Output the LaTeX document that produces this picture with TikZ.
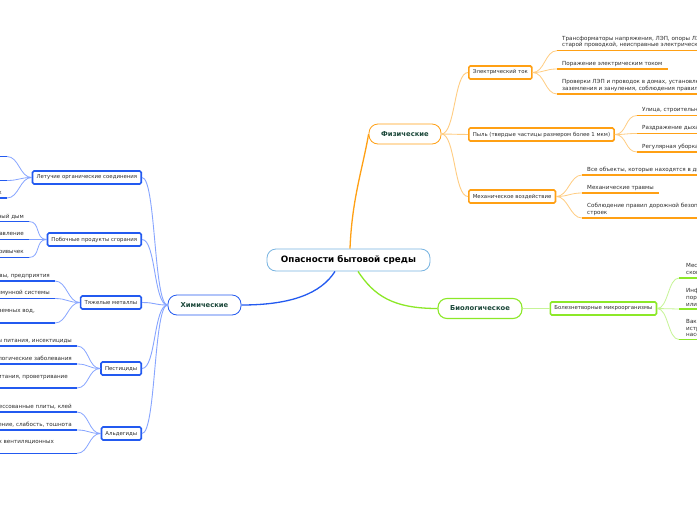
\documentclass[tikz,border=0pt]{standalone}
\usepackage{fontspec}
\setmainfont{DejaVu Sans}
\usepackage{xcolor}
\usepackage{tikz}
\usetikzlibrary{positioning}
\definecolor{hzOrange}{RGB}{255,160,20}
\definecolor{hzLightOrange}{RGB}{255,205,130}
\definecolor{hzBlue}{RGB}{35,90,240}
\definecolor{hzLightBlue}{RGB}{135,165,255}
\definecolor{hzGreen}{RGB}{140,232,40}
\definecolor{hzLightGreen}{RGB}{198,244,150}
\definecolor{hzSky}{RGB}{120,180,225}
\definecolor{hzTeal}{RGB}{28,72,58}
\definecolor{hzInk}{RGB}{45,45,45}

\begin{document}
\begin{tikzpicture}[x=1pt, y=-1pt, font=\fontsize{5.6}{6.7}\selectfont, text=hzInk]
\tikzstyle{root}=[draw=hzSky, thick, rounded corners=9pt, fill=white, minimum width=163pt, minimum height=22pt, text=black, font=\bfseries\fontsize{8.8}{10}\selectfont]
\tikzstyle{branch}=[thick, rounded corners=9pt, fill=white, minimum height=20pt, text=hzTeal, font=\bfseries\fontsize{6.8}{8}\selectfont]
\tikzstyle{topic}=[line width=1.6pt, rounded corners=1.5pt, fill=white, minimum height=13pt, inner xsep=4pt, inner ysep=0pt, font=\fontsize{5.4}{6.5}\selectfont]
\tikzstyle{leafR}=[anchor=south west, align=left, inner xsep=5pt, inner ysep=2.5pt]
\tikzstyle{leafL}=[anchor=south east, align=left, inner xsep=5pt, inner ysep=2.5pt]

\fill[white] (0,0) rectangle (697,520);
\useasboundingbox (0,0) rectangle (697,520);
\clip (0,0) rectangle (697,520);

% main branches
\node[root] (root) at (348.5,260) {Опасности бытовой среды};
\node[branch, draw=hzOrange, minimum width=72pt] (phys) at (405,134) {Физические};
\node[branch, draw=hzBlue, minimum width=73pt] (chem) at (204.5,305) {Химические};
\node[branch, draw=hzGreen, line width=1.1pt, minimum width=84pt] (bio) at (480,308.5) {Биологическое};

% physical
\node[topic, draw=hzOrange, anchor=west] (elec) at (468,72.5) {Электрический ток};
\node[topic, draw=hzOrange, anchor=west] (dust) at (468,134.5) {Пыль (твердые частицы размером более 1 мкм)};
\node[topic, draw=hzOrange, anchor=west] (mech) at (468,196.5) {Механическое воздействие};

\node[leafR] (e1) at (557,50.7) {Трансформаторы напряжения, ЛЭП, опоры ЛЭП, дома со\\старой проводкой, неисправные электрические приборы};
\node[leafR] (e2) at (557,69) {Поражение электрическим током};
\node[leafR] (e3) at (557,94) {Проверки ЛЭП и проводок в домах, установление\\заземления и зануления, соблюдения правил безопасности};
\node[leafR] (d1) at (637,115.5) {Улица, строительные площадки};
\node[leafR] (d2) at (637,133.5) {Раздражение дыхательных путей};
\node[leafR] (d3) at (637,152) {Регулярная уборка помещений};
\node[leafR] (m1) at (582,175) {Все объекты, которые находятся в движении};
\node[leafR] (m2) at (582,193) {Механические травмы};
\node[leafR] (m3) at (582,218) {Соблюдение правил дорожной безопасности и техники безопасности у\\строек};

% chemical
\node[topic, draw=hzBlue, anchor=east] (voc) at (142,177.5) {Летучие органические соединения};
\node[topic, draw=hzBlue, anchor=east] (comb) at (142,239.5) {Побочные продукты сгорания};
\node[topic, draw=hzBlue, anchor=east] (metal) at (142,302.5) {Тяжелые металлы};
\node[topic, draw=hzBlue, anchor=east] (pest) at (142,368.5) {Пестициды};
\node[topic, draw=hzBlue, anchor=east] (ald) at (142,433.5) {Альдегиды};

\node[leafL, text width=150pt] (v1) at (7,156.5) {Лаки, краски, растворители, бытовая химия};
\node[leafL, text width=150pt] (v2) at (7,180.5) {Головная боль, аллергия, раздражение\\глаз и дыхательных путей};
\node[leafL] (v3) at (7,198) {Проветривание, отказ от синтетических красок};
\node[leafL] (c1) at (29,221.5) {Газовые плиты, камины, табачный дым};
\node[leafL] (c2) at (29,239.5) {Головная боль, отравление};
\node[leafL] (c3) at (29,257.5) {Отказ от вредных привычек};
\node[leafL] (t1) at (55,281) {Загрязнённые почвы, предприятия};
\node[leafL] (t2) at (55,298.5) {Поражение нервной и иммунной системы};
\node[leafL] (t3) at (55,323) {Очистка питьевых и подземных вод,\hspace*{15pt}\\мытьё продуктов};
\node[leafL] (p1) at (77,346) {Продукты питания, инсектициды};
\node[leafL] (p2) at (77,364) {Отравления, онкологические заболевания};
\node[leafL] (p3) at (77,388) {Мытьё продуктов питания, проветривание\hspace*{4pt}\\комнат};
\node[leafL] (a1) at (77,412) {Мебель, прессованные плиты, клей};
\node[leafL] (a2) at (77,430) {Головокружение, слабость, тошнота};
\node[leafL] (a3) at (77,453.3) {Установка качественных вентиляционных\hspace*{18pt}\\систем};

% biological
\node[topic, draw=hzGreen, right=27pt of bio] (germs) {Болезнетворные микроорганизмы};
\node[leafR, inner xsep=7pt] (b1) at (679,278) {Места большого\\скопления людей};
\node[leafR, inner xsep=7pt] (b2) at (679,309) {Инфекционные заболевания,\\поражение органов\\или систем};
\node[leafR, inner xsep=7pt] (b3) at (679,339.5) {Вакцинация,\\истребление\\насекомых};

% connectors
\draw[line width=1.3pt, hzOrange] ([xshift=1.5pt]root.north) .. controls +(2,-50) and +(-6,35) .. (phys.west);
\draw[line width=1.3pt, hzBlue] ([xshift=-13.5pt]root.south) .. controls +(-14,22) and +(50,0) .. (chem.east);
\draw[line width=1.3pt, hzGreen] ([xshift=9.5pt]root.south) .. controls +(16,24) and +(-45,0) .. (bio.west);

\foreach \t in {elec,dust,mech}
  \draw[hzLightOrange, line width=0.9pt] (phys.east) .. controls +(14,0) and +(-14,0) .. (\t.west);
\foreach \t/\l in {elec/e1,elec/e2,elec/e3,dust/d1,dust/d2,dust/d3,mech/m1,mech/m2,mech/m3}
  \draw[hzLightOrange, line width=0.8pt] (\t.east) .. controls +(12,0) and +(-12,0) .. (\l.south west);
\foreach \n in {e1,e2,e3,d1,d2,d3,m1,m2,m3}
  \draw[hzOrange, line width=1.3pt] (\n.south west) -- (\n.south east);

\foreach \t in {voc,comb,metal,pest,ald}
  \draw[hzLightBlue, line width=0.9pt] (chem.west) .. controls +(-14,0) and +(14,0) .. (\t.east);
\foreach \t/\l in {voc/v1,voc/v2,voc/v3,comb/c1,comb/c2,comb/c3,metal/t1,metal/t2,metal/t3,pest/p1,pest/p2,pest/p3,ald/a1,ald/a2,ald/a3}
  \draw[hzLightBlue, line width=0.8pt] (\t.west) .. controls +(-12,0) and +(12,0) .. (\l.south east);
\foreach \n in {v1,v2,v3,c1,c2,c3,t1,t2,t3,p1,p2,p3,a1,a2,a3}
  \draw[hzBlue, line width=1.3pt] (\n.south west) -- (\n.south east);

\draw[hzLightGreen, line width=0.9pt] (bio) -- (germs);
\foreach \l in {b1,b2,b3}
  \draw[hzLightGreen, line width=0.8pt] (germs.east) .. controls +(11,0) and +(-11,0) .. (\l.south west);
\foreach \n in {b1,b2,b3}
  \draw[hzGreen, line width=1.3pt] (\n.south west) -- (\n.south east);
\end{tikzpicture}
\end{document}
